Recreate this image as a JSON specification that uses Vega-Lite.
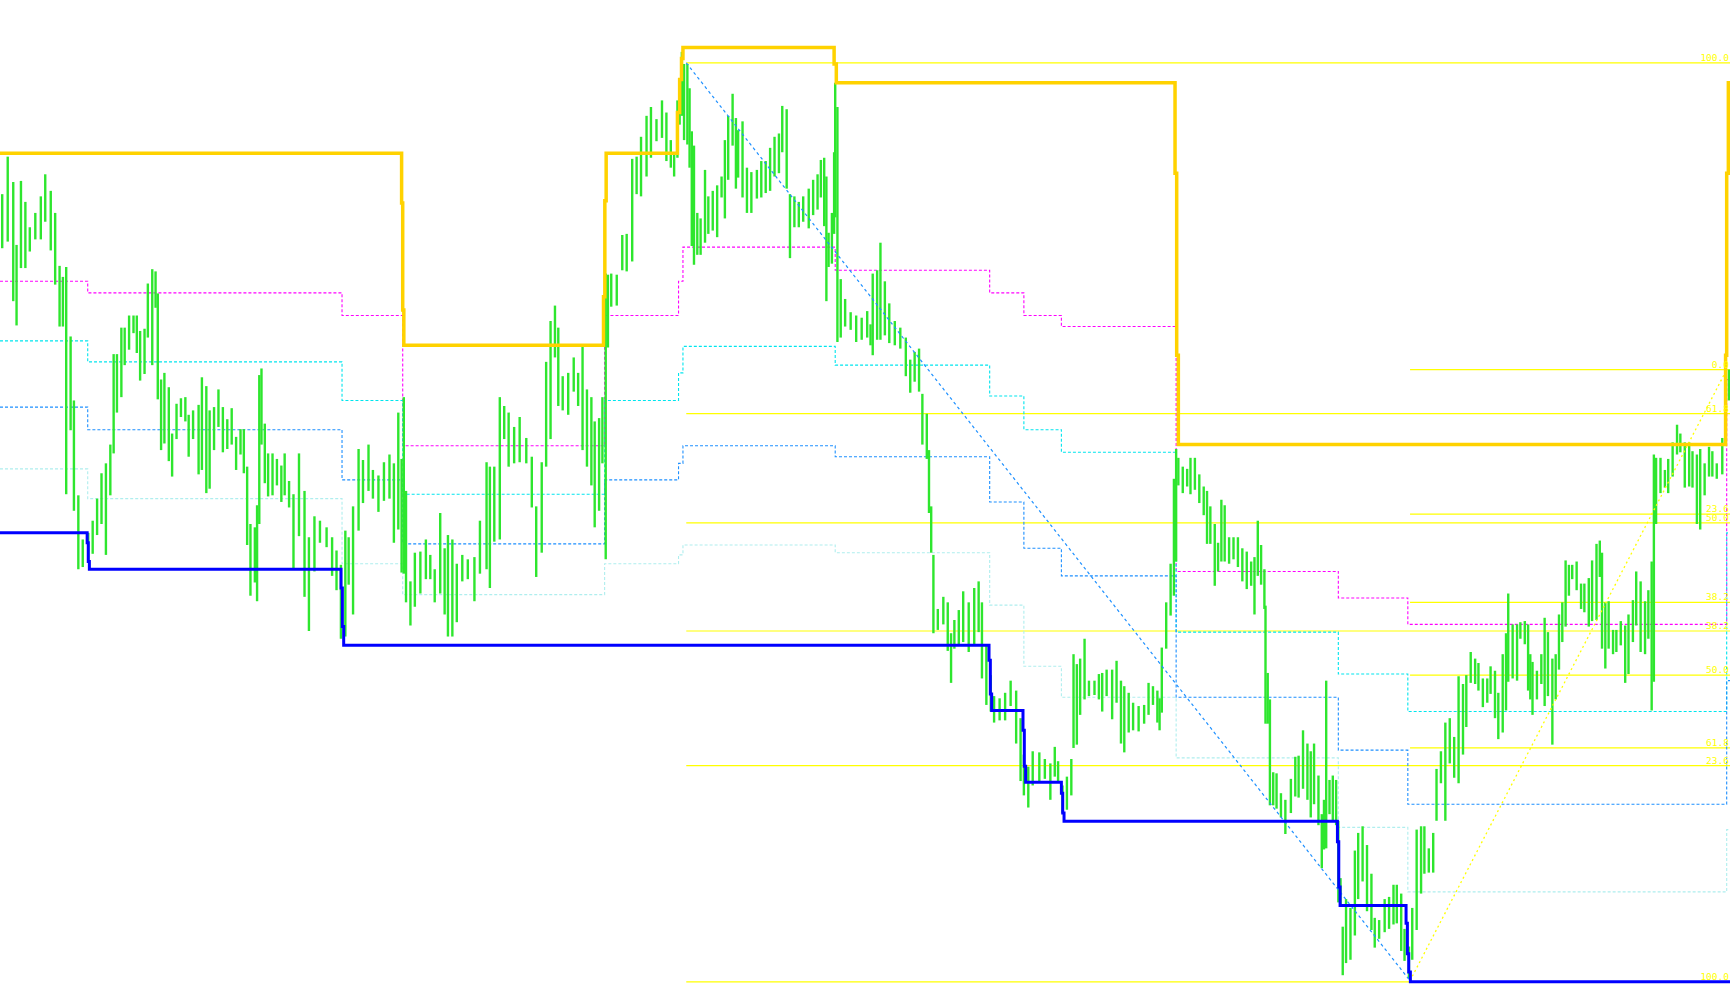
{
"$schema":"https://vega.github.io/schema/vega-lite/v6.json",
"width":1730,"height":1005,"padding":0,
"autosize":{"type":"none"},
"background":"white",
"config":{"view":{"stroke":null}},
"datasets":{
"bars":[
{"t":2,"h":824,"l":775},{"t":7,"h":858,"l":781},{"t":12,"h":835,"l":727},{"t":15,"h":778,"l":705},{"t":19,"h":836,"l":757},{"t":23,"h":817,"l":757},{"t":27,"h":794,"l":772},{"t":32,"h":807,"l":783},{"t":37,"h":822,"l":783},{"t":41,"h":842,"l":799},{"t":46,"h":827,"l":773},{"t":50,"h":807,"l":742},{"t":54,"h":759,"l":704},{"t":57,"h":749,"l":704},{"t":60,"h":758,"l":552},{"t":64,"h":695,"l":610},{"t":67,"h":637,"l":537},{"t":71,"h":551,"l":484},{"t":75,"h":511,"l":486},{"t":80,"h":517,"l":492},{"t":84,"h":528,"l":498},{"t":88,"h":548,"l":515},{"t":92,"h":571,"l":525},{"t":96,"h":580,"l":497},{"t":100,"h":597,"l":551},{"t":103,"h":679,"l":589},{"t":106,"h":679,"l":626},{"t":110,"h":703,"l":640},{"t":113,"h":703,"l":669},{"t":117,"h":714,"l":683},{"t":121,"h":714,"l":698},{"t":124,"h":714,"l":680},{"t":127,"h":700,"l":655},{"t":131,"h":702,"l":661},{"t":134,"h":743,"l":694},{"t":138,"h":756,"l":669},{"t":141,"h":754,"l":721},{"t":143,"h":734,"l":638},{"t":146,"h":656,"l":592},{"t":149,"h":662,"l":598},{"t":153,"h":649,"l":582},{"t":156,"h":607,"l":568},{"t":160,"h":634,"l":602},{"t":164,"h":639,"l":622},{"t":168,"h":640,"l":618},{"t":171,"h":624,"l":586},{"t":175,"h":628,"l":602},{"t":180,"h":633,"l":570},{"t":183,"h":658,"l":574},{"t":187,"h":650,"l":553},{"t":190,"h":628,"l":557},{"t":194,"h":631,"l":592},{"t":198,"h":647,"l":613},{"t":202,"h":631,"l":590},{"t":206,"h":620,"l":593},{"t":210,"h":630,"l":597},{"t":214,"h":604,"l":574},{"t":218,"h":611,"l":588},{"t":221,"h":611,"l":571},{"t":224,"h":577,"l":506},{"t":227,"h":525,"l":460},{"t":231,"h":522,"l":472},{"t":233,"h":542,"l":455},{"t":235,"h":660,"l":525},{"t":237,"h":666,"l":597},{"t":240,"h":616,"l":562},{"t":243,"h":589,"l":550},{"t":247,"h":589,"l":551},{"t":251,"h":584,"l":560},{"t":255,"h":578,"l":545},{"t":258,"h":589,"l":551},{"t":262,"h":564,"l":540},
{"t":266,"h":552,"l":485},{"t":271,"h":589,"l":514},{"t":276,"h":555,"l":459},{"t":280,"h":513,"l":428},{"t":285,"h":532,"l":482},{"t":290,"h":528,"l":508},{"t":296,"h":522,"l":504},{"t":301,"h":513,"l":478},{"t":305,"h":501,"l":465},{"t":309,"h":488,"l":421},{"t":313,"h":519,"l":423},{"t":316,"h":513,"l":470},{"t":320,"h":541,"l":443},{"t":325,"h":593,"l":519},{"t":329,"h":583,"l":544},{"t":334,"h":597,"l":555},{"t":338,"h":574,"l":548},{"t":343,"h":569,"l":536},{"t":348,"h":581,"l":546},{"t":353,"h":588,"l":548},{"t":357,"h":580,"l":508},{"t":361,"h":626,"l":520},{"t":364,"h":584,"l":481},{"t":366,"h":640,"l":480},{"t":368,"h":555,"l":454},{"t":372,"h":473,"l":433},{"t":376,"h":499,"l":450},{"t":381,"h":500,"l":462},{"t":386,"h":511,"l":475},{"t":390,"h":497,"l":475},{"t":394,"h":484,"l":454},{"t":399,"h":535,"l":462},{"t":403,"h":503,"l":443},{"t":406,"h":515,"l":423},{"t":410,"h":511,"l":423},{"t":414,"h":489,"l":436},{"t":419,"h":497,"l":473},{"t":424,"h":493,"l":475},{"t":430,"h":495,"l":455},{"t":435,"h":528,"l":480},{"t":441,"h":581,"l":484},{"t":444,"h":577,"l":467},{"t":448,"h":577,"l":509},{"t":453,"h":640,"l":511},{"t":457,"h":632,"l":602},{"t":461,"h":626,"l":577},{"t":466,"h":613,"l":580},{"t":471,"h":622,"l":581},{"t":477,"h":603,"l":580},{"t":482,"h":586,"l":540},{"t":486,"h":541,"l":477},{"t":491,"h":581,"l":499},{"t":495,"h":672,"l":577},{"t":499,"h":709,"l":602},{"t":503,"h":723,"l":676},{"t":506,"h":703,"l":632},{"t":510,"h":659,"l":628},{"t":515,"h":662,"l":624},{"t":520,"h":676,"l":645},{"t":524,"h":662,"l":632},
{"t":528,"h":687,"l":592},{"t":532,"h":647,"l":577},{"t":536,"h":640,"l":560},{"t":539,"h":618,"l":522},{"t":543,"h":621,"l":537},{"t":546,"h":640,"l":580},{"t":549,"h":752,"l":493},{"t":551,"h":751,"l":685},{"t":554,"h":752,"l":722},{"t":559,"h":751,"l":723},{"t":564,"h":787,"l":755},{"t":568,"h":788,"l":754},{"t":573,"h":856,"l":763},{"t":577,"h":858,"l":824},{"t":581,"h":876,"l":822},{"t":586,"h":895,"l":840},{"t":590,"h":903,"l":857},{"t":595,"h":892,"l":872},{"t":600,"h":909,"l":875},{"t":604,"h":898,"l":854},{"t":608,"h":873,"l":848},{"t":611,"h":862,"l":840},{"t":614,"h":909,"l":857},{"t":616,"h":912,"l":887},{"t":618,"h":953,"l":895},{"t":620,"h":942,"l":873},{"t":623,"h":942,"l":869},{"t":625,"h":920,"l":848},{"t":627,"h":881,"l":777},{"t":629,"h":868,"l":760},{"t":632,"h":807,"l":769},{"t":635,"h":802,"l":769},{"t":639,"h":846,"l":780},{"t":642,"h":822,"l":788},{"t":646,"h":827,"l":791},{"t":650,"h":832,"l":785},{"t":654,"h":840,"l":821},{"t":657,"h":873,"l":802},{"t":660,"h":895,"l":837},{"t":664,"h":915,"l":868},{"t":667,"h":893,"l":829},{"t":669,"h":882,"l":839},{"t":673,"h":890,"l":821},{"t":677,"h":848,"l":807},{"t":681,"h":844,"l":807},{"t":686,"h":846,"l":820},{"t":690,"h":854,"l":821},{"t":694,"h":854,"l":825},{"t":698,"h":866,"l":827},{"t":702,"h":876,"l":840},{"t":706,"h":879,"l":843},{"t":709,"h":904,"l":862},{"t":713,"h":901,"l":829},{"t":716,"h":824,"l":766},{"t":720,"h":822,"l":794},{"t":724,"h":817,"l":794},{"t":728,"h":822,"l":799},{"t":733,"h":829,"l":793},{"t":737,"h":837,"l":805},{"t":741,"h":842,"l":810},{"t":744,"h":855,"l":821},{"t":747,"h":857,"l":795},{"t":749,"h":840,"l":727},{"t":751,"h":789,"l":758},{"t":754,"h":807,"l":761},{"t":756,"h":862,"l":788},{"t":757,"h":925,"l":803},{"t":759,"h":903,"l":690},{"t":762,"h":747,"l":694},{"t":766,"h":729,"l":704},{"t":771,"h":717,"l":701},{"t":776,"h":714,"l":690},{"t":781,"h":712,"l":692},{"t":786,"h":718,"l":694},{"t":789,"h":706,"l":687},
{"t":791,"h":752,"l":678},{"t":795,"h":755,"l":692},{"t":798,"h":780,"l":692},{"t":802,"h":745,"l":696},{"t":806,"h":725,"l":689},{"t":811,"h":709,"l":687},{"t":816,"h":703,"l":684},{"t":821,"h":694,"l":659},{"t":825,"h":674,"l":644},{"t":829,"h":681,"l":654},{"t":833,"h":684,"l":645},{"t":836,"h":643,"l":597},{"t":840,"h":625,"l":584},{"t":842,"h":592,"l":535},{"t":844,"h":541,"l":499},{"t":846,"h":497,"l":426},{"t":850,"h":448,"l":429},{"t":855,"h":459,"l":434},{"t":859,"h":454,"l":410},{"t":862,"h":426,"l":381},{"t":865,"h":438,"l":412},{"t":869,"h":447,"l":416},{"t":873,"h":464,"l":418},{"t":878,"h":454,"l":409},{"t":883,"h":467,"l":415},{"t":887,"h":473,"l":427},{"t":890,"h":454,"l":385},{"t":894,"h":415,"l":361},{"t":898,"h":388,"l":355},{"t":901,"h":369,"l":345},{"t":906,"h":367,"l":347},{"t":911,"h":372,"l":347},{"t":916,"h":383,"l":360},{"t":921,"h":374,"l":326},{"t":925,"h":349,"l":292},{"t":928,"h":316,"l":279},{"t":932,"h":305,"l":268},{"t":936,"h":319,"l":288},{"t":942,"h":318,"l":292},{"t":947,"h":312,"l":294},{"t":952,"h":308,"l":275},{"t":956,"h":323,"l":296},{"t":959,"h":310,"l":292},{"t":963,"h":288,"l":263},{"t":967,"h":296,"l":266},{"t":971,"h":312,"l":279},{"t":973,"h":407,"l":322},{"t":976,"h":398,"l":325},{"t":979,"h":403,"l":352},{"t":983,"h":421,"l":366},{"t":987,"h":383,"l":369},{"t":992,"h":383,"l":370},{"t":996,"h":389,"l":366},{"t":999,"h":390,"l":355},{"t":1003,"h":393,"l":369},{"t":1008,"h":393,"l":348},{"t":1012,"h":401,"l":363},{"t":1016,"h":383,"l":326},{"t":1019,"h":378,"l":318},{"t":1023,"h":372,"l":336},{"t":1027,"h":363,"l":338},{"t":1032,"h":360,"l":337},{"t":1037,"h":361,"l":344},{"t":1041,"h":381,"l":352},{"t":1045,"h":378,"l":361},{"t":1049,"h":374,"l":345},{"t":1051,"h":367,"l":338},
{"t":1053,"h":413,"l":354},{"t":1057,"h":454,"l":412},{"t":1061,"h":489,"l":442},{"t":1064,"h":566,"l":460},{"t":1066,"h":593,"l":491},{"t":1068,"h":585,"l":560},{"t":1072,"h":577,"l":553},{"t":1076,"h":575,"l":559},{"t":1079,"h":585,"l":552},{"t":1083,"h":585,"l":556},{"t":1087,"h":570,"l":544},{"t":1091,"h":559,"l":533},{"t":1094,"h":555,"l":507},{"t":1097,"h":541,"l":507},{"t":1101,"h":525,"l":469},{"t":1104,"h":508,"l":482},{"t":1107,"h":547,"l":491},{"t":1110,"h":542,"l":491},{"t":1114,"h":513,"l":489},{"t":1118,"h":513,"l":493},{"t":1122,"h":513,"l":486},{"t":1126,"h":503,"l":473},{"t":1130,"h":500,"l":466},{"t":1134,"h":491,"l":469},{"t":1137,"h":495,"l":443},{"t":1140,"h":528,"l":478},{"t":1143,"h":506,"l":470},{"t":1146,"h":484,"l":448},{"t":1147,"h":451,"l":344},{"t":1149,"h":390,"l":344},{"t":1151,"h":366,"l":270},{"t":1154,"h":300,"l":270},{"t":1157,"h":299,"l":267},{"t":1161,"h":281,"l":259},{"t":1165,"h":275,"l":244},{"t":1170,"h":294,"l":263},{"t":1174,"h":314,"l":278},{"t":1177,"h":315,"l":277},{"t":1181,"h":338,"l":285},{"t":1185,"h":326,"l":275},{"t":1188,"h":319,"l":259},{"t":1191,"h":326,"l":271},{"t":1195,"h":297,"l":252},{"t":1198,"h":262,"l":213},{"t":1200,"h":275,"l":230},{"t":1202,"h":383,"l":231},{"t":1205,"h":293,"l":262},{"t":1208,"h":297,"l":256},{"t":1211,"h":293,"l":252},{"t":1213,"h":256,"l":182},{"t":1215,"h":204,"l":179},{"t":1217,"h":160,"l":116},{"t":1220,"h":185,"l":127},{"t":1224,"h":177,"l":130},{"t":1228,"h":229,"l":152},{"t":1231,"h":245,"l":185},{"t":1235,"h":251,"l":201},{"t":1239,"h":234,"l":174},{"t":1243,"h":208,"l":157},{"t":1246,"h":168,"l":141},{"t":1250,"h":166,"l":149},{"t":1255,"h":185,"l":155},{"t":1259,"h":187,"l":158},{"t":1263,"h":198,"l":162},{"t":1266,"h":198,"l":163},{"t":1270,"h":190,"l":138},{"t":1273,"h":158,"l":129},{"t":1277,"h":142,"l":113},{"t":1280,"h":177,"l":130},{"t":1284,"h":248,"l":157},{"t":1288,"h":251,"l":190},{"t":1291,"h":251,"l":208},{"t":1295,"h":231,"l":209},{"t":1299,"h":245,"l":209},{"t":1302,"h":303,"l":256},{"t":1306,"h":319,"l":290},
{"t":1310,"h":345,"l":256},{"t":1314,"h":349,"l":308},{"t":1318,"h":332,"l":295},{"t":1322,"h":387,"l":290},{"t":1326,"h":380,"l":316},{"t":1329,"h":388,"l":341},{"t":1333,"h":409,"l":381},{"t":1337,"h":403,"l":380},{"t":1340,"h":399,"l":374},{"t":1344,"h":385,"l":359},{"t":1348,"h":385,"l":363},{"t":1351,"h":396,"l":371},{"t":1355,"h":392,"l":349},{"t":1358,"h":372,"l":330},{"t":1362,"h":407,"l":336},{"t":1365,"h":426,"l":356},{"t":1367,"h":462,"l":382},{"t":1371,"h":434,"l":385},{"t":1375,"h":434,"l":383},{"t":1378,"h":436,"l":421},{"t":1382,"h":437,"l":416},{"t":1385,"h":434,"l":374},{"t":1387,"h":407,"l":366},{"t":1389,"h":400,"l":352},{"t":1393,"h":392,"l":366},{"t":1397,"h":407,"l":380},{"t":1400,"h":440,"l":360},{"t":1403,"h":427,"l":369},{"t":1407,"h":403,"l":325},{"t":1410,"h":407,"l":366},{"t":1413,"h":443,"l":393},{"t":1416,"h":454,"l":418},{"t":1419,"h":492,"l":432},{"t":1422,"h":488,"l":460},{"t":1425,"h":488,"l":475},{"t":1429,"h":491,"l":465},{"t":1433,"h":471,"l":448},{"t":1436,"h":471,"l":445},{"t":1440,"h":476,"l":432},{"t":1443,"h":492,"l":437},{"t":1447,"h":507,"l":438},{"t":1450,"h":510,"l":477},{"t":1452,"h":499,"l":412},{"t":1455,"h":454,"l":394},{"t":1458,"h":455,"l":412},{"t":1462,"h":429,"l":407},{"t":1465,"h":429,"l":409},{"t":1469,"h":437,"l":415},{"t":1473,"h":433,"l":381},{"t":1476,"h":443,"l":389},{"t":1480,"h":456,"l":418},{"t":1483,"h":482,"l":433},{"t":1487,"h":473,"l":409},{"t":1491,"h":455,"l":407},{"t":1494,"h":465,"l":421},{"t":1497,"h":491,"l":356},{"t":1499,"h":588,"l":382},{"t":1501,"h":585,"l":525},{"t":1505,"h":585,"l":553},{"t":1509,"h":574,"l":558},{"t":1512,"h":584,"l":553},{"t":1516,"h":599,"l":568},{"t":1520,"h":615,"l":588},{"t":1523,"h":607,"l":590},{"t":1527,"h":599,"l":558},{"t":1531,"h":599,"l":559},{"t":1534,"h":591,"l":558},{"t":1538,"h":588,"l":525},{"t":1541,"h":593,"l":520},{"t":1545,"h":580,"l":551},{"t":1549,"h":595,"l":568},{"t":1552,"h":591,"l":568},{"t":1556,"h":580,"l":566},{"t":1561,"h":603,"l":570},{"t":1564,"h":678,"l":651},{"t":1567,"h":665,"l":637}
],
"lv":[
{"s":"m","t":0,"p":745},{"s":"m","t":79.5,"p":734.5},{"s":"m","t":310,"p":714},{"s":"m","t":365,"p":596},{"s":"m","t":548,"p":714},{"s":"m","t":615,"p":745},{"s":"m","t":619,"p":776},{"s":"m","t":757,"p":755},{"s":"m","t":897,"p":734.5},{"s":"m","t":928,"p":714},{"s":"m","t":962,"p":704},{"s":"m","t":1066,"p":482},{"s":"m","t":1213,"p":458},{"s":"m","t":1276,"p":434},{"s":"m","t":1565,"p":656},{"s":"m","t":1568,"p":656},
{"s":"c","t":0,"p":691},{"s":"c","t":79.5,"p":672},{"s":"c","t":310,"p":637},{"s":"c","t":365,"p":552},{"s":"c","t":548,"p":637},{"s":"c","t":615,"p":662},{"s":"c","t":619,"p":686},{"s":"c","t":757,"p":669},{"s":"c","t":897,"p":641},{"s":"c","t":928,"p":610.5},{"s":"c","t":962,"p":590},{"s":"c","t":1066,"p":427},{"s":"c","t":1213,"p":389},{"s":"c","t":1276,"p":355},{"s":"c","t":1565,"p":517},{"s":"c","t":1568,"p":517},
{"s":"b","t":0,"p":631},{"s":"b","t":79.5,"p":610.5},{"s":"b","t":310,"p":565},{"s":"b","t":365,"p":507},{"s":"b","t":548,"p":565},{"s":"b","t":615,"p":580},{"s":"b","t":619,"p":596},{"s":"b","t":757,"p":586},{"s":"b","t":897,"p":545},{"s":"b","t":928,"p":503},{"s":"b","t":962,"p":478},{"s":"b","t":1066,"p":368},{"s":"b","t":1213,"p":320},{"s":"b","t":1276,"p":271},{"s":"b","t":1565,"p":383},{"s":"b","t":1568,"p":383},
{"s":"q","t":0,"p":575},{"s":"q","t":79.5,"p":548},{"s":"q","t":310,"p":489},{"s":"q","t":365,"p":461},{"s":"q","t":548,"p":489},{"s":"q","t":615,"p":497},{"s":"q","t":619,"p":506},{"s":"q","t":757,"p":499},{"s":"q","t":897,"p":451.5},{"s":"q","t":928,"p":396},{"s":"q","t":962,"p":368},{"s":"q","t":1066,"p":313},{"s":"q","t":1213,"p":250},{"s":"q","t":1276,"p":191.5},{"s":"q","t":1565,"p":248},{"s":"q","t":1568,"p":248}
],
"fib":[
{"a":622,"b":1568,"p":943,"lab":"100.0"},{"a":622,"b":1568,"p":625,"lab":"61.8"},{"a":622,"b":1568,"p":526,"lab":"50.0"},{"a":622,"b":1568,"p":428,"lab":"38.2"},{"a":622,"b":1568,"p":306,"lab":"23.6"},{"a":622,"b":1568,"p":110,"lab":"100.0"},
{"a":1278,"b":1568,"p":665,"lab":"0.0"},{"a":1278,"b":1568,"p":534,"lab":"23.6"},{"a":1278,"b":1568,"p":454,"lab":"38.2"},{"a":1278,"b":1568,"p":388,"lab":"50.0"},{"a":1278,"b":1568,"p":322,"lab":"61.8"}
],
"upper":[
{"t":0,"p":861},{"t":364,"p":816},{"t":365,"p":719},{"t":366,"p":687},{"t":547,"p":731},{"t":548.2,"p":818},{"t":549.4,"p":861},{"t":614,"p":898},{"t":616,"p":928},{"t":617.7,"p":947},{"t":619,"p":957},{"t":756,"p":942},{"t":758,"p":925},{"t":1065,"p":843},{"t":1066.5,"p":678},{"t":1068,"p":597},{"t":1564,"p":678},{"t":1565,"p":843},{"t":1566.5,"p":925},{"t":1568,"p":925}
],
"lower":[
{"t":0,"p":517},{"t":79,"p":508},{"t":80,"p":491},{"t":81,"p":484},{"t":309.1,"p":467},{"t":310.3,"p":432},{"t":311.5,"p":415},{"t":896.4,"p":401.5},{"t":897.6,"p":371},{"t":898.8,"p":356},{"t":927.2,"p":338},{"t":928.4,"p":305.5},{"t":929.6,"p":291},{"t":962,"p":281},{"t":963.2,"p":263},{"t":964.4,"p":255.6},{"t":1212.2,"p":237},{"t":1213.4,"p":196},{"t":1214.6,"p":179.3},{"t":1274.4,"p":163},{"t":1275.6,"p":135.5},{"t":1276.8,"p":119},{"t":1278.3,"p":110},{"t":1568,"p":110}
]
},
"layer":[
{"data":{"name":"fib"},"mark":{"type":"rule","color":"#FFFF00","strokeWidth":1.2},
 "encoding":{"x":{"field":"a","type":"quantitative","scale":{"domain":[0,1568],"nice":false,"zero":false},"axis":null},"x2":{"field":"b"},
 "y":{"field":"p","type":"quantitative","scale":{"domain":[89,1000],"nice":false,"zero":false},"axis":null}}},
{"data":{"name":"lv"},"mark":{"type":"line","interpolate":"step-after","strokeWidth":1.1,"strokeDash":[3,2]},
 "encoding":{"x":{"field":"t","type":"quantitative","scale":{"domain":[0,1568],"nice":false,"zero":false},"axis":null},
 "y":{"field":"p","type":"quantitative","scale":{"domain":[89,1000],"nice":false,"zero":false},"axis":null},
 "color":{"field":"s","type":"nominal","scale":{"domain":["m","c","b","q"],"range":["#FF00FF","#00E5EE","#1E90FF","#AFEEEE"]},"legend":null}}},
{"data":{"name":"bars"},"mark":{"type":"rule","color":"#2EE62E","strokeWidth":2.4},
 "encoding":{"x":{"field":"t","type":"quantitative","scale":{"domain":[0,1568],"nice":false,"zero":false},"axis":null},
 "y":{"field":"h","type":"quantitative","scale":{"domain":[89,1000],"nice":false,"zero":false},"axis":null},"y2":{"field":"l"}}},
{"data":{"values":[{"a":622,"pa":943,"b":1278,"pb":111}]},"mark":{"type":"rule","color":"#1E90FF","strokeWidth":1.2,"strokeDash":[3,3]},
 "encoding":{"x":{"field":"a","type":"quantitative","scale":{"domain":[0,1568],"nice":false,"zero":false},"axis":null},"x2":{"field":"b"},
 "y":{"field":"pa","type":"quantitative","scale":{"domain":[89,1000],"nice":false,"zero":false},"axis":null},"y2":{"field":"pb"}}},
{"data":{"values":[{"a":1278,"pa":111,"b":1565,"pb":665}]},"mark":{"type":"rule","color":"#FFFF00","strokeWidth":1.3,"strokeDash":[2,3]},
 "encoding":{"x":{"field":"a","type":"quantitative","scale":{"domain":[0,1568],"nice":false,"zero":false},"axis":null},"x2":{"field":"b"},
 "y":{"field":"pa","type":"quantitative","scale":{"domain":[89,1000],"nice":false,"zero":false},"axis":null},"y2":{"field":"pb"}}},
{"data":{"name":"lower"},"mark":{"type":"line","interpolate":"step-after","color":"#0000FF","strokeWidth":3},
 "encoding":{"x":{"field":"t","type":"quantitative","scale":{"domain":[0,1568],"nice":false,"zero":false},"axis":null},
 "y":{"field":"p","type":"quantitative","scale":{"domain":[89,1000],"nice":false,"zero":false},"axis":null}}},
{"data":{"name":"upper"},"mark":{"type":"line","interpolate":"step-after","color":"#FFD200","strokeWidth":3.5},
 "encoding":{"x":{"field":"t","type":"quantitative","scale":{"domain":[0,1568],"nice":false,"zero":false},"axis":null},
 "y":{"field":"p","type":"quantitative","scale":{"domain":[89,1000],"nice":false,"zero":false},"axis":null}}},
{"data":{"name":"fib"},"mark":{"type":"text","align":"right","baseline":"alphabetic","dx":-1,"dy":-2,"font":"DejaVu Sans Mono","fontSize":9.5,"color":"#FFFF00"},
 "encoding":{"x":{"field":"b","type":"quantitative","scale":{"domain":[0,1568],"nice":false,"zero":false},"axis":null},
 "y":{"field":"p","type":"quantitative","scale":{"domain":[89,1000],"nice":false,"zero":false},"axis":null},"text":{"field":"lab"}}}
]
}
